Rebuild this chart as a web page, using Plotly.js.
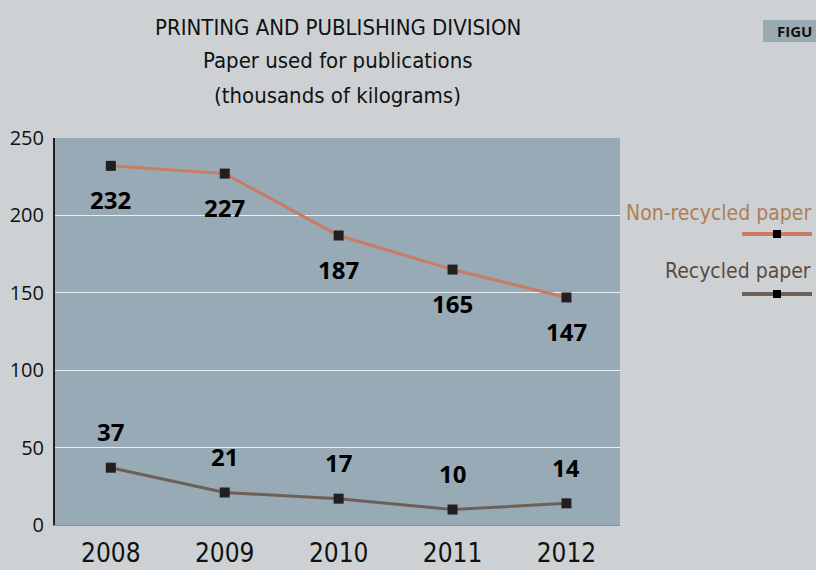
<!DOCTYPE html>
<html><head><meta charset="utf-8">
<script src="https://cdn.plot.ly/plotly-3.0.1.min.js"></script>
<style>body{margin:0;background:#cdd1d3}</style>
</head><body>
<div id="chart" style="width:816px;height:570px"></div>
<script>
const years = [2008, 2009, 2010, 2011, 2012];
const nonRecycled = [232, 227, 187, 165, 147];
const recycled = [37, 21, 17, 10, 14];
const yTicks = [0, 50, 100, 150, 200, 250];
const titleLines = ['PRINTING AND PUBLISHING DIVISION', 'Paper used for publications', '(thousands of kilograms)'];

const cond = '"DejaVu Sans Condensed", "Liberation Sans Narrow", sans-serif';
const bold = '"Open Sans", "DejaVu Sans", sans-serif';

const traces = [
  {x: years, y: nonRecycled, mode: 'lines+markers', name: 'Non-recycled paper',
   line: {color: '#c97c62', width: 3}, marker: {symbol: 'square', size: 10, color: '#231f20'}},
  {x: years, y: recycled, mode: 'lines+markers', name: 'Recycled paper',
   line: {color: '#6e6058', width: 3}, marker: {symbol: 'square', size: 10, color: '#231f20'}}
];

const annotations = [];
years.forEach((yr, i) => {
  annotations.push({x: yr, y: nonRecycled[i], xref: 'x', yref: 'y', text: String(nonRecycled[i]),
    showarrow: false, yshift: -34, font: {family: bold, size: 24, color: '#000', weight: 'bold'}});
  annotations.push({x: yr, y: recycled[i], xref: 'x', yref: 'y', text: String(recycled[i]),
    showarrow: false, yshift: 36, font: {family: bold, size: 24, color: '#000', weight: 'bold'}});
});
const titleY = [111, 78, 43];
titleLines.forEach((t, i) => {
  annotations.push({xref: 'paper', yref: 'paper', x: 0.5, y: 1, yshift: titleY[i], yanchor: 'middle', showarrow: false,
    text: t, font: {family: cond, size: 22, color: '#111'}});
});
// legend text
annotations.push({xref: 'paper', yref: 'paper', x: 1, xshift: 193, y: 1, yshift: -75, xanchor: 'right', yanchor: 'middle',
  showarrow: false, text: 'Non-recycled paper', font: {family: cond, size: 21, color: '#b07e54'}});
annotations.push({xref: 'paper', yref: 'paper', x: 1, xshift: 193, y: 1, yshift: -133, xanchor: 'right', yanchor: 'middle',
  showarrow: false, text: 'Recycled paper', font: {family: cond, size: 21, color: '#594b44'}});
// FIGU tag (clipped at page edge in the reference)
annotations.push({xref: 'paper', yref: 'paper', x: 1, xshift: 155, y: 1, yshift: 107, xanchor: 'left', yanchor: 'middle',
  showarrow: false, text: '<b>FIGU</b>', font: {family: bold, size: 15, color: '#111'}});

function pxShape(extra) {
  return Object.assign({xref: 'paper', yref: 'paper', xsizemode: 'pixel', ysizemode: 'pixel', xanchor: 1, yanchor: 1}, extra);
}
function sample(yPix, color) {
  return [
    pxShape({type: 'line', x0: 122, x1: 192, y0: yPix, y1: yPix, line: {color: color, width: 4}}),
    pxShape({type: 'rect', x0: 153, x1: 161, y0: yPix - 4, y1: yPix + 4, fillcolor: '#000', line: {width: 0}})
  ];
}
const shapes = [pxShape({type: 'rect', x0: 143, x1: 205, y0: 96, y1: 118, fillcolor: '#9aaab3', line: {width: 0}, layer: 'below'})]
  .concat(sample(-96, '#c97c62'), sample(-156, '#6e6058'));

const layout = {
  width: 816, height: 570,
  paper_bgcolor: '#cdd1d3', plot_bgcolor: '#98aab5',
  margin: {l: 55, r: 196, t: 138, b: 45},
  showlegend: false,
  xaxis: {range: [2007.51, 2012.47], tickvals: years, ticktext: years.map(String),
    showgrid: false, zeroline: false, showline: true, linecolor: '#8c9092', linewidth: 1,
    ticks: '', tickfont: {family: cond, size: 26, color: '#111'}, ticklabelstandoff: 5, fixedrange: true},
  yaxis: {range: [0, 250], tickvals: yTicks, showgrid: true, gridcolor: '#e8eef2', gridwidth: 1,
    zeroline: false, showline: true, linecolor: '#231f20', linewidth: 2, ticks: '',
    tickfont: {family: '"Open Sans", "DejaVu Sans", sans-serif', size: 20, color: '#111'}, ticklabelstandoff: 5},
  annotations: annotations,
  shapes: shapes
};
Plotly.newPlot('chart', traces, layout, {displayModeBar: false, staticPlot: true});
</script>
</body></html>
